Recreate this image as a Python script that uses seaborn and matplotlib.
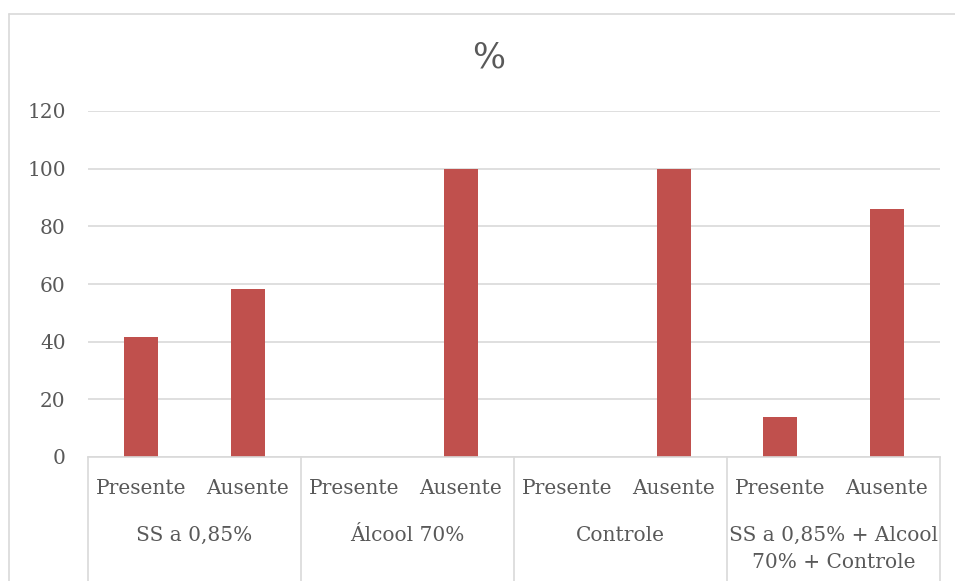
import matplotlib
matplotlib.use("Agg")
import matplotlib.pyplot as plt
import matplotlib.transforms as mtransforms
import seaborn as sns
import pandas as pd

groups = ["SS a 0,85%", "Álcool 70%", "Controle", "SS a 0,85% + Alcool\n70% + Controle"]
subcats = ["Presente", "Ausente"]
values = [41.7, 58.3, 0, 100, 0, 100, 13.9, 86.1]
yticks = [0, 20, 40, 60, 80, 100, 120]
title = "%"

keys, labels = [], []
for g in groups:
    for s in subcats:
        keys.append(g + "|" + s)
        labels.append(s)
df = pd.DataFrame({"key": keys, "value": values})

sns.set_theme(style="white")
plt.rcParams["font.family"] = ["DejaVu Serif"]
TXT = "#595959"
GRID = "#D9D9D9"
BAR = "#C0504D"

fig = plt.figure(figsize=(9.55, 5.81), dpi=100)
ax = fig.add_axes([88 / 955, 1 - 457 / 581, (940 - 88) / 955, (457 - 111) / 581])

sns.barplot(data=df, x="key", y="value", color=BAR, width=0.32, ax=ax,
            saturation=1, errorbar=None, order=keys, linewidth=0)

ax.set_ylim(0, 120)
ax.set_xlim(-0.5, len(keys) - 0.5)
ax.set_yticks(yticks)
ax.set_yticklabels([str(t) for t in yticks], fontsize=14.5, color=TXT)
ax.set_xticks(range(len(keys)))
ax.set_xticklabels(labels, fontsize=14.5, color=TXT)
ax.tick_params(axis="y", length=0, pad=16)
ax.tick_params(axis="x", length=0, pad=16)
ax.set_xlabel("")
ax.set_ylabel("")
ax.grid(axis="y", color=GRID, linewidth=1.2)
ax.set_axisbelow(True)
for side in ["left", "right", "top"]:
    ax.spines[side].set_visible(False)
ax.spines["bottom"].set_color(GRID)
ax.spines["bottom"].set_linewidth(1.2)

fig.text(489 / 955, 1 - 57 / 581, title, fontsize=25, color=TXT, ha="center", va="center")

trans = mtransforms.blended_transform_factory(ax.transData, ax.transAxes)
n = len(subcats)
for i in range(len(groups) + 1):
    x = i * n - 0.5
    ax.plot([x, x], [0, -0.36], transform=trans, color=GRID, linewidth=1.2, clip_on=False)
for i, g in enumerate(groups):
    cx = i * n + (n - 1) / 2
    ax.text(cx, -0.198, g, transform=trans, ha="center", va="top", fontsize=14.5,
            color=TXT, linespacing=1.55)

# outer chart border (left and top edges)
fig.add_artist(plt.Line2D([9 / 955, 9 / 955], [0, 1 - 14 / 581], color=GRID, linewidth=1.2))
fig.add_artist(plt.Line2D([9 / 955, 1], [1 - 14 / 581, 1 - 14 / 581], color=GRID, linewidth=1.2))

fig.savefig("out.png", dpi=100)
